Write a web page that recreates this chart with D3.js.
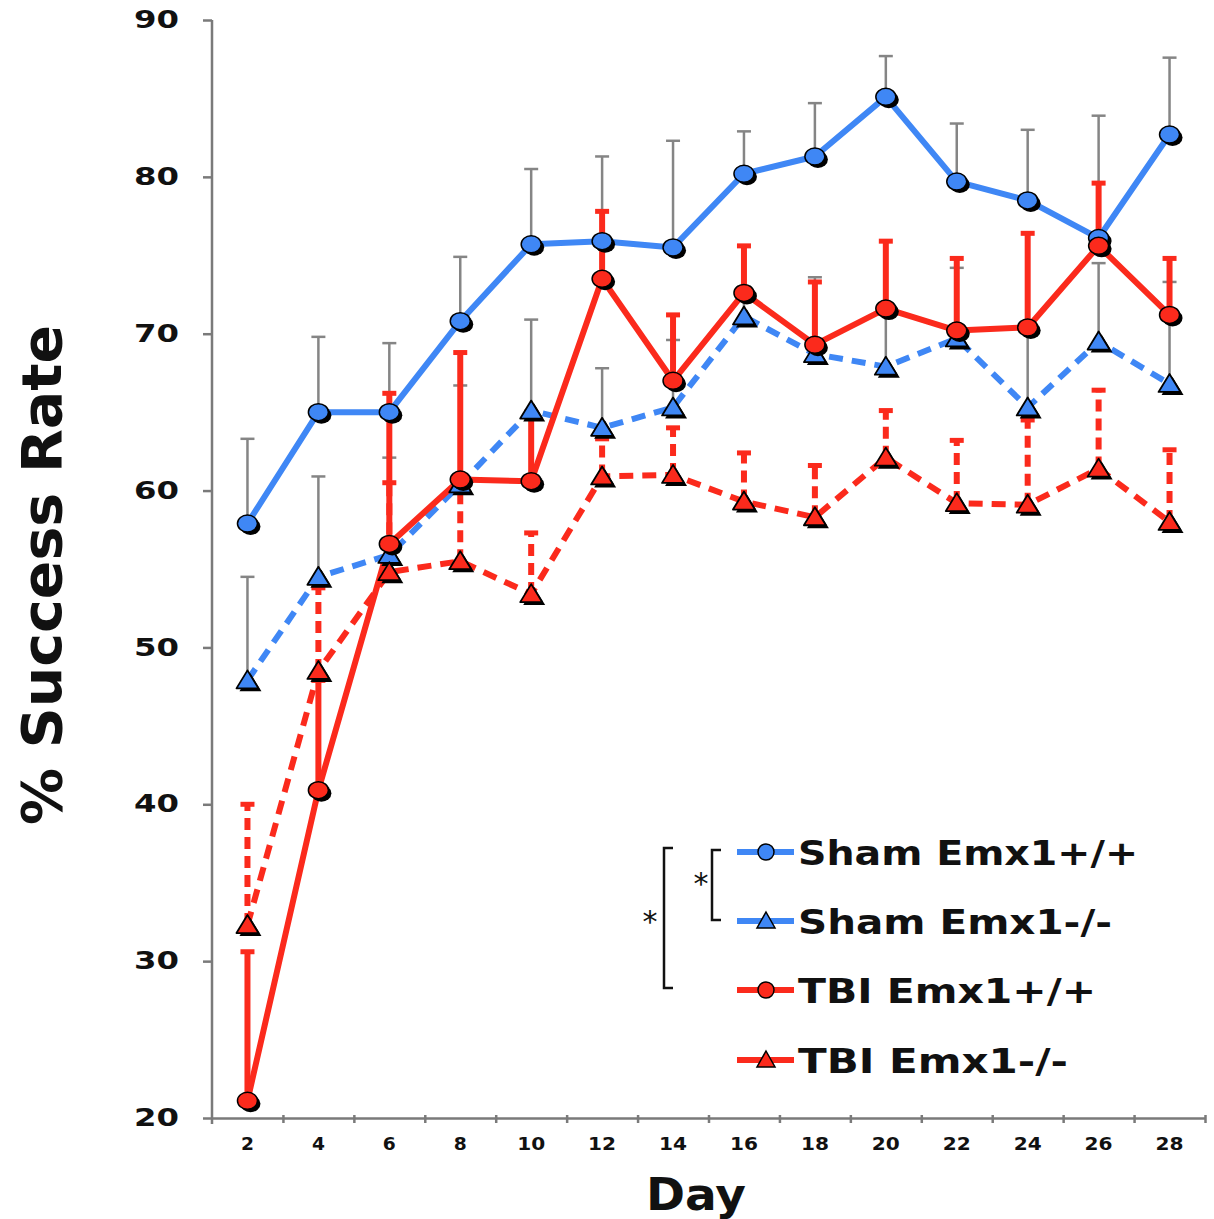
<!DOCTYPE html>
<html>
<head>
<meta charset="utf-8">
<script src="https://cdn.jsdelivr.net/npm/d3@7"></script>
<style>
  body { margin: 0; background: #fff; }
  text { font-family: "DejaVu Sans", Verdana, sans-serif; font-weight: bold; }
</style>
</head>
<body>
<svg id="chart" width="1214" height="1219"></svg>
<script>
// days on the x axis
const days = [2, 4, 6, 8, 10, 12, 14, 16, 18, 20, 22, 24, 26, 28];
const yTicks = [20, 30, 40, 50, 60, 70, 80, 90];

// means and SEM (upper bar only) per group
const shamWT = [57.9, 65.0, 65.0, 70.8, 75.7, 75.9, 75.5, 80.2, 81.3, 85.1, 79.7, 78.5, 76.1, 82.7];
const shamWTErr = [5.4, 4.8, 4.4, 4.1, 4.8, 5.4, 6.8, 2.7, 3.4, 2.6, 3.7, 4.5, 7.8, 4.9];
const shamKO = [47.9, 54.5, 55.9, 60.4, 65.1, 64.0, 65.3, 71.1, 68.7, 67.9, 69.7, 65.3, 69.5, 66.8];
const shamKOErr = [6.6, 6.4, 6.2, 6.3, 5.8, 3.8, 4.3, 1.9, 4.9, 3.6, 4.5, 5.2, 5.0, 6.5];
const tbiWT = [21.1, 40.9, 56.6, 60.7, 60.6, 73.5, 67.0, 72.6, 69.3, 71.6, 70.2, 70.4, 75.6, 71.2];
const tbiWTErr = [9.5, 7.0, 9.6, 8.1, 4.4, 4.3, 4.2, 3.0, 4.0, 4.3, 4.6, 6.0, 4.0, 3.6];
const tbiKO = [32.3, 48.5, 54.8, 55.5, 53.4, 60.9, 61.0, 59.3, 58.3, 62.1, 59.2, 59.1, 61.4, 58.0];
const tbiKOErr = [7.7, 5.3, 5.7, 4.8, 3.9, 2.4, 3.0, 3.1, 3.3, 3.0, 4.0, 5.4, 5.0, 4.6];

const groupNames = ["Sham Emx1+/+", "Sham Emx1-/-", "TBI Emx1+/+", "TBI Emx1-/-"];

const blue = "#3f87f5";
const red = "#fb2a1c";
const grey = "#858585";

const series = [
  { name: groupNames[0], vals: shamWT, err: shamWTErr, color: blue, dash: null, shape: "circle", errColor: grey, errW: 2.5 },
  { name: groupNames[1], vals: shamKO, err: shamKOErr, color: blue, dash: "14,9", shape: "triangle", errColor: grey, errW: 2.5 },
  { name: groupNames[3], vals: tbiKO, err: tbiKOErr, color: red, dash: "14,9", shape: "triangle", errColor: red, errW: 6 },
  { name: groupNames[2], vals: tbiWT, err: tbiWTErr, color: red, dash: null, shape: "circle", errColor: red, errW: 6 }
];

const svg = d3.select("#chart");
const plotL = 212, plotR = 1205, plotT = 20, plotB = 1118;

const x = d3.scaleBand().domain(days).range([plotL, plotR]).padding(0);
const cx = d => x(d) + x.bandwidth() / 2;
const y = d3.scaleLinear().domain([20, 90]).range([plotB, plotT]);
const xEdges = d3.scaleLinear().domain([0, days.length]).range([plotL, plotR]);

// y axis
const yAxis = svg.append("g")
  .attr("transform", `translate(${plotL},0)`)
  .call(d3.axisLeft(y).tickValues(yTicks).tickSize(9).tickPadding(24).tickSizeOuter(0));
yAxis.select(".domain").attr("stroke", "#7a7a7a").attr("stroke-width", 2.5)
  .attr("d", `M0,${plotT}V${plotB + 6}`);
yAxis.selectAll(".tick line").attr("stroke", "#7a7a7a").attr("stroke-width", 2.5);
yAxis.selectAll(".tick text").attr("font-size", 24).attr("fill", "#111")
  .attr("textLength", 45).attr("lengthAdjust", "spacingAndGlyphs")
  .style("font-family", "DejaVu Sans").style("font-weight", "bold");

// x axis: ticks on the category edges, labels in the middle
const xAxis = svg.append("g")
  .attr("transform", `translate(0,${plotB})`)
  .call(d3.axisBottom(xEdges).ticks(days.length).tickFormat("").tickSize(5).tickSizeOuter(0));
xAxis.select(".domain").attr("stroke", "#7a7a7a").attr("stroke-width", 2.5);
xAxis.selectAll(".tick line").attr("stroke", "#7a7a7a").attr("stroke-width", 2.5).attr("y1", -3);
xAxis.selectAll(".tick").filter(d => d === 0).remove();

const xLab = svg.append("g")
  .attr("transform", `translate(0,${plotB})`)
  .call(d3.axisBottom(x).tickSize(0).tickPadding(20));
xLab.select(".domain").remove();
xLab.selectAll(".tick text").attr("font-size", 17).attr("fill", "#111")
  .attr("textLength", d => d < 10 ? 13 : 28).attr("lengthAdjust", "spacingAndGlyphs")
  .style("font-family", "DejaVu Sans").style("font-weight", "bold");

// titles
svg.append("text")
  .attr("transform", `translate(61,575) rotate(-90)`)
  .attr("text-anchor", "middle")
  .attr("font-size", 55)
  .attr("textLength", 500).attr("lengthAdjust", "spacingAndGlyphs")
  .attr("fill", "#111")
  .text("% Success Rate");

svg.append("text")
  .attr("x", 696).attr("y", 1210)
  .attr("text-anchor", "middle")
  .attr("font-size", 44)
  .attr("textLength", 100).attr("lengthAdjust", "spacingAndGlyphs")
  .attr("fill", "#111")
  .text("Day");

const plot = svg.append("g");

// error bars (upper only)
series.forEach(s => {
  const g = plot.append("g");
  days.forEach((d, i) => {
    const hi = s.vals[i] + s.err[i];
    g.append("line")
      .attr("x1", cx(d)).attr("x2", cx(d))
      .attr("y1", y(s.vals[i])).attr("y2", y(hi))
      .attr("stroke", s.errColor).attr("stroke-width", s.errW)
      .attr("stroke-dasharray", s.dash && s.errColor === red ? "12,7" : null);
    g.append("line")
      .attr("x1", cx(d) - 7).attr("x2", cx(d) + 7)
      .attr("y1", y(hi)).attr("y2", y(hi))
      .attr("stroke", s.errColor).attr("stroke-width", s.errColor === red ? 5 : 2.5);
  });
});

// lines
const line = d3.line().x((v, i) => cx(days[i])).y(v => y(v));
series.forEach(s => {
  plot.append("path")
    .datum(s.vals)
    .attr("d", line)
    .attr("fill", "none")
    .attr("stroke", s.color)
    .attr("stroke-width", 6)
    .attr("stroke-linejoin", "round")
    .attr("stroke-dasharray", s.dash);
});

// markers with a little drop shadow
const triPath = "M0,-10L11,8L-11,8Z";
function marker(g, shape, color, px, py) {
  if (shape === "circle") {
    g.append("ellipse").attr("cx", px + 3).attr("cy", py + 3).attr("rx", 10).attr("ry", 8.5).attr("fill", "#000");
    g.append("ellipse").attr("cx", px).attr("cy", py).attr("rx", 10).attr("ry", 8.5)
      .attr("fill", color).attr("stroke", "#000").attr("stroke-width", 1.5);
  } else {
    g.append("path").attr("d", triPath).attr("transform", `translate(${px + 3},${py + 3})`).attr("fill", "#000");
    g.append("path").attr("d", triPath).attr("transform", `translate(${px},${py})`)
      .attr("fill", color).attr("stroke", "#000").attr("stroke-width", 1.8).attr("stroke-linejoin", "round");
  }
}
series.forEach(s => {
  const g = plot.append("g");
  days.forEach((d, i) => marker(g, s.shape, s.color, cx(d), y(s.vals[i])));
});

// legend
const legend = svg.append("g");
const legendRows = [
  { name: groupNames[0], color: blue, shape: "circle", y: 852, w: 340 },
  { name: groupNames[1], color: blue, shape: "triangle", y: 921, w: 314 },
  { name: groupNames[2], color: red, shape: "circle", y: 990, w: 298 },
  { name: groupNames[3], color: red, shape: "triangle", y: 1060, w: 270 }
];
legendRows.forEach(r => {
  legend.append("line")
    .attr("x1", 737).attr("x2", 794).attr("y1", r.y).attr("y2", r.y)
    .attr("stroke", r.color).attr("stroke-width", 6);
  if (r.shape === "circle") {
    legend.append("circle").attr("cx", 766).attr("cy", r.y).attr("r", 8)
      .attr("fill", r.color).attr("stroke", "#000").attr("stroke-width", 1.5);
  } else {
    legend.append("path").attr("d", "M0,-9L9,7L-9,7Z").attr("transform", `translate(766,${r.y})`)
      .attr("fill", r.color).attr("stroke", "#000").attr("stroke-width", 1.5);
  }
  legend.append("text")
    .attr("x", 798).attr("y", r.y + 13)
    .attr("font-size", 34)
    .attr("textLength", r.w).attr("lengthAdjust", "spacingAndGlyphs")
    .attr("fill", "#111")
    .text(r.name);
});

// significance brackets
legend.append("path").attr("d", "M673,848H664V988H673")
  .attr("fill", "none").attr("stroke", "#111").attr("stroke-width", 2.5);
legend.append("path").attr("d", "M721,850H712V920H721")
  .attr("fill", "none").attr("stroke", "#111").attr("stroke-width", 2.5);
legend.append("text").attr("x", 650).attr("y", 932).attr("text-anchor", "middle")
  .attr("font-size", 30).style("font-weight", "normal").attr("fill", "#111").text("*");
legend.append("text").attr("x", 701).attr("y", 894).attr("text-anchor", "middle")
  .attr("font-size", 30).style("font-weight", "normal").attr("fill", "#111").text("*");
</script>
</body>
</html>
